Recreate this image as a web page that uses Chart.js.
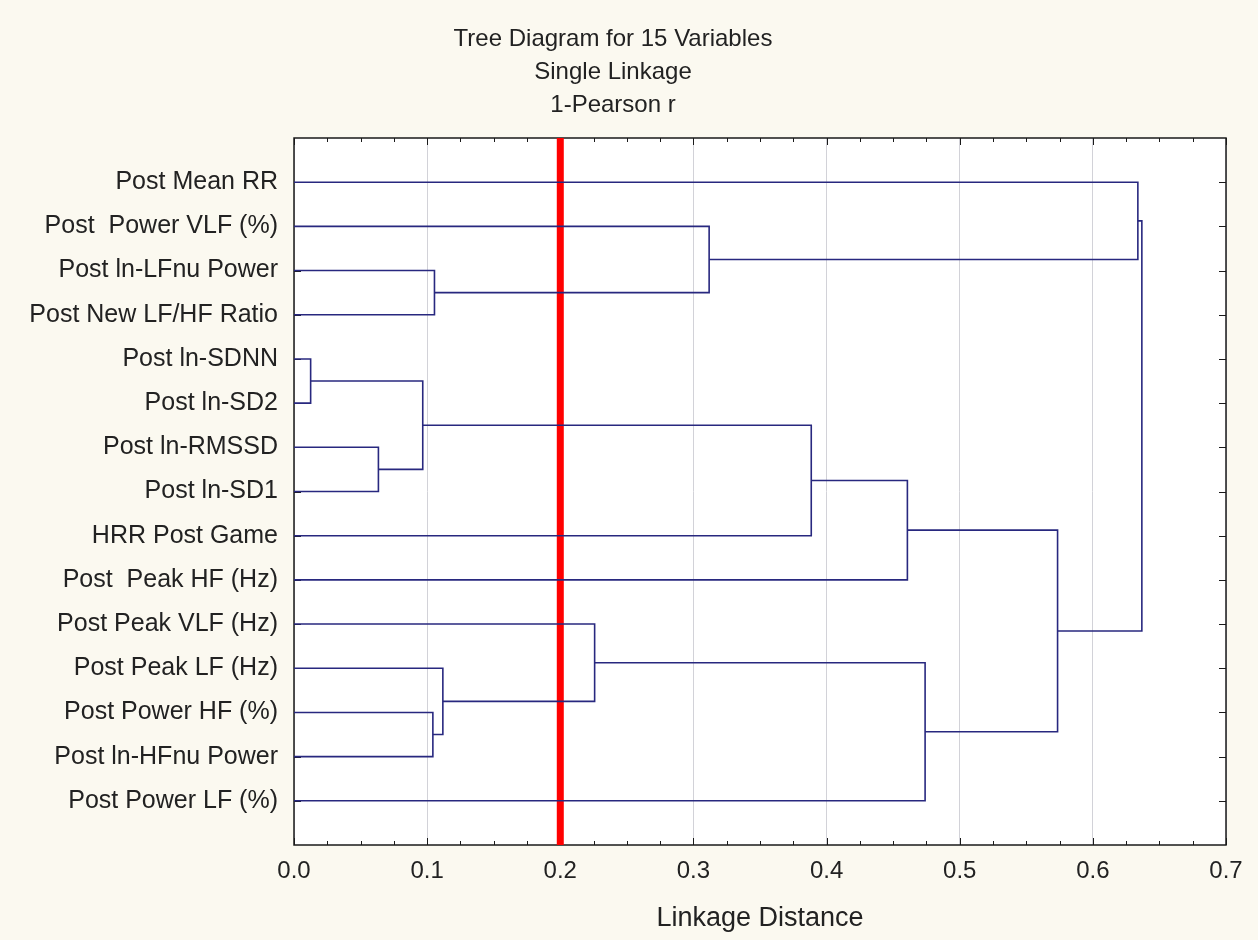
<!DOCTYPE html>
<html>
<head>
<meta charset="utf-8">
<title>Tree Diagram for 15 Variables</title>
<script src="https://cdn.jsdelivr.net/npm/chart.js@4"></script>
<style>
  html, body { margin: 0; padding: 0; background: #fbf9f0; }
  canvas { display: block; }
</style>
</head>
<body>
<canvas id="treeChart" width="1258" height="940"></canvas>
<script>
// leaves, top to bottom as they sit on the y axis
const varNames = [
  "Post Mean RR",
  "Post  Power VLF (%)",
  "Post ln-LFnu Power",
  "Post New LF/HF Ratio",
  "Post ln-SDNN",
  "Post ln-SD2",
  "Post ln-RMSSD",
  "Post ln-SD1",
  "HRR Post Game",
  "Post  Peak HF (Hz)",
  "Post Peak VLF (Hz)",
  "Post Peak LF (Hz)",
  "Post Power HF (%)",
  "Post ln-HFnu Power",
  "Post Power LF (%)"
];

// merge steps: ids < 15 are leaves, merge k makes cluster 15 + k
const mergeA = [4, 6, 15, 12, 2, 11, 10, 1, 17, 23, 21, 24, 0, 27];
const mergeB = [5, 7, 16, 13, 3, 18, 20, 19, 8, 9, 14, 25, 22, 26];
const mergeHeight = [0.0125, 0.0634, 0.0967, 0.1043, 0.1055, 0.1118, 0.2258,
                     0.3118, 0.3885, 0.4607, 0.474, 0.5735, 0.6338, 0.6368];

const cutLevel = 0.2;
const xTicks = [0, 0.1, 0.2, 0.3, 0.4, 0.5, 0.6, 0.7];

const LINE_COLOR = "#28287f";
const FONT = "'Liberation Sans', Arial, sans-serif";

// build the U-shaped links from the merge table
function buildLinks() {
    const nodeX = [];
    const nodeY = [];
    varNames.forEach((name, i) => { nodeX.push(0); nodeY.push(i + 1); });

    const sets = [];
    mergeHeight.forEach((h, k) => {
        const a = mergeA[k], b = mergeB[k];
        sets.push({
            data: [
                { x: nodeX[a], y: nodeY[a] },
                { x: h, y: nodeY[a] },
                { x: h, y: nodeY[b] },
                { x: nodeX[b], y: nodeY[b] }
            ],
            showLine: true,
            borderColor: LINE_COLOR,
            borderWidth: 1.6,
            pointRadius: 0,
            tension: 0
        });
        nodeX.push(h);
        nodeY.push((nodeY[a] + nodeY[b]) / 2);
    });
    return sets;
}

// white plot area, frame and inward tick marks
const framePlugin = {
    id: "frame",
    beforeDraw(chart) {
        const { ctx, chartArea: a } = chart;
        ctx.save();
        ctx.fillStyle = "#ffffff";
        ctx.fillRect(a.left, a.top, a.right - a.left, a.bottom - a.top);
        ctx.restore();
    },
    beforeDatasetsDraw(chart) {
        const { ctx, chartArea: a, scales } = chart;
        ctx.save();
        ctx.strokeStyle = "#1a1a1a";
        ctx.lineWidth = 1.5;
        ctx.strokeRect(a.left, a.top, a.right - a.left, a.bottom - a.top);

        ctx.lineWidth = 1;
        ctx.beginPath();
        // x: major every 0.1, minor every 0.025
        for (let i = 0; i <= 28; i++) {
            const px = Math.round(scales.x.getPixelForValue(i * 0.025)) + 0.5;
            const len = i % 4 === 0 ? 7 : 4;
            ctx.moveTo(px, a.top); ctx.lineTo(px, a.top + len);
            ctx.moveTo(px, a.bottom); ctx.lineTo(px, a.bottom - len);
        }
        // y: one tick per variable, both sides
        varNames.forEach((name, i) => {
            const py = Math.round(scales.y.getPixelForValue(i + 1)) + 0.5;
            ctx.moveTo(a.left, py); ctx.lineTo(a.left + 7, py);
            ctx.moveTo(a.right, py); ctx.lineTo(a.right - 7, py);
        });
        ctx.stroke();
        ctx.restore();
    }
};

const datasets = buildLinks();
datasets.push({
    data: [{ x: cutLevel, y: 0 }, { x: cutLevel, y: varNames.length + 1 }],
    showLine: true,
    borderColor: "#ff0000",
    borderWidth: 7,
    pointRadius: 0
});

new Chart(document.getElementById("treeChart"), {
    type: "scatter",
    data: { datasets },
    plugins: [framePlugin],
    options: {
        responsive: false,
        animation: false,
        layout: { padding: { left: 0, right: 32, top: 0, bottom: 0 } },
        plugins: {
            legend: { display: false },
            tooltip: { enabled: false },
            title: {
                display: true,
                text: ["Tree Diagram for 15 Variables", "Single Linkage", "1-Pearson r"],
                color: "#222",
                font: { family: FONT, size: 24, weight: "normal", lineHeight: 1.375 },
                padding: { top: 23, bottom: 16 }
            }
        },
        scales: {
            x: {
                type: "linear",
                min: 0,
                max: 0.7,
                afterFit: s => { s.height = 95; },
                afterBuildTicks: s => { s.ticks = xTicks.map(v => ({ value: v })); },
                ticks: {
                    color: "#222",
                    padding: 12,
                    font: { family: FONT, size: 24 },
                    callback: v => v.toFixed(1)
                },
                grid: {
                    drawTicks: false,
                    color: "#d2d2d8",
                    lineWidth: 1
                },
                border: { display: false },
                title: {
                    display: true,
                    text: "Linkage Distance",
                    color: "#222",
                    font: { family: FONT, size: 27 },
                    padding: { top: 0, bottom: 5 }
                }
            },
            y: {
                type: "linear",
                min: 0,
                max: varNames.length + 1,
                reverse: true,
                afterFit: s => { s.width = 294; },
                afterBuildTicks: s => { s.ticks = varNames.map((n, i) => ({ value: i + 1 })); },
                ticks: {
                    color: "#222",
                    padding: 16,
                    autoSkip: false,
                    font: { family: FONT, size: 25 },
                    callback: v => varNames[v - 1]
                },
                grid: { display: false, drawTicks: false },
                border: { display: false }
            }
        }
    }
});
</script>
</body>
</html>
